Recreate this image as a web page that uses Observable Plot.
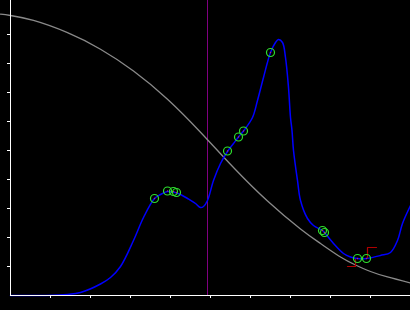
<!DOCTYPE html>
<html>
<head>
<meta charset="utf-8">
<script src="https://cdn.jsdelivr.net/npm/d3@7"></script>
<script src="https://cdn.jsdelivr.net/npm/@observablehq/plot@0.6"></script>
<style>
  html, body { margin: 0; padding: 0; background: #000; }
  #chart { width: 410px; height: 310px; }
</style>
</head>
<body>
<div id="chart"></div>
<script>
// Tick positions (no labels in the reference)
const xTicks = [1, 2, 3, 4, 5, 6, 7, 8, 9];
const yTicks = [1, 2, 3, 4, 5, 6, 7, 8, 9];

// Gray descending curve
const grayX = [-0.25, 0, 0.575, 1.425, 2.25, 3.075, 3.925, 4.75, 5.575, 6.425, 7.25, 7.75, 8.25, 8.625, 9.0, 9.425, 10];
const grayY = [9.700, 9.655, 9.483, 9.062, 8.493, 7.741, 6.769, 5.631, 4.414, 3.259, 2.293, 1.793, 1.328, 1.052, 0.828, 0.638, 0.431];

// Blue curve
const blueX = [0, 0.875, 1.425, 1.75, 2.25, 2.5, 2.75, 3.075, 3.325, 3.6, 3.75, 3.925, 4.075, 4.25, 4.425, 4.625, 4.75, 4.825, 4.925, 5.075, 5.25, 5.425, 5.575, 5.7, 5.825, 6.05, 6.175, 6.325, 6.5, 6.625, 6.7, 6.8, 6.875, 6.95, 7.0, 7.0375, 7.075, 7.175, 7.25, 7.425, 7.575, 7.8, 7.85, 8.075, 8.325, 8.5, 8.675, 8.9, 9.25, 9.5, 9.675, 9.8, 10];
const blueY = [0, 0, 0.034, 0.103, 0.397, 0.621, 1.0, 1.897, 2.690, 3.345, 3.483, 3.586, 3.569, 3.483, 3.345, 3.172, 3.034, 3.069, 3.276, 3.966, 4.552, 4.966, 5.241, 5.466, 5.672, 6.138, 6.724, 7.517, 8.379, 8.724, 8.828, 8.724, 8.207, 7.172, 6.138, 5.690, 5.0, 3.966, 3.276, 2.655, 2.414, 2.241, 2.172, 1.793, 1.448, 1.328, 1.276, 1.276, 1.379, 1.483, 1.897, 2.483, 3.103];

// Green circle markers
const markX = [3.6, 3.925, 4.075, 4.15, 5.425, 5.7, 5.825, 6.5, 7.8, 7.85, 8.675, 8.9];
const markY = [3.345, 3.603, 3.586, 3.552, 4.983, 5.466, 5.672, 8.379, 2.241, 2.172, 1.276, 1.276];

// Red step markers
const red1X = [8.425, 8.625, 8.625];
const red1Y = [1.0, 1.0, 1.241];
const red2X = [8.925, 8.925, 9.15];
const red2Y = [1.310, 1.655, 1.655];

// Purple vertical reference line
const vLineX = [4.925];

const gray = grayX.map((x, i) => ({x, y: grayY[i]}));
const blue = blueX.map((x, i) => ({x, y: blueY[i]}));
const marks = markX.map((x, i) => ({x, y: markY[i]}));
const red1 = red1X.map((x, i) => ({x, y: red1Y[i]}));
const red2 = red2X.map((x, i) => ({x, y: red2Y[i]}));

const chart = Plot.plot({
  width: 410,
  height: 310,
  marginLeft: 10,
  marginRight: 0,
  marginTop: 0,
  marginBottom: 15,
  style: {background: "#000", color: "#fff", overflow: "visible"},
  x: {domain: [0, 10], ticks: xTicks, tickSize: 3, tickFormat: () => "", label: null},
  y: {domain: [0, 295 / 29], ticks: yTicks, tickSize: 3, tickFormat: () => "", label: null},
  marks: [
    Plot.ruleX(vLineX, {stroke: "#800080", strokeWidth: 1}),
    Plot.line(gray, {x: "x", y: "y", stroke: "#8a8a8a", strokeWidth: 1.3, curve: "natural"}),
    Plot.line(blue, {x: "x", y: "y", stroke: "#0000ff", strokeWidth: 1.5, curve: "catmull-rom"}),
    Plot.line(red1, {x: "x", y: "y", stroke: "#b00000", strokeWidth: 1.2}),
    Plot.line(red2, {x: "x", y: "y", stroke: "#b00000", strokeWidth: 1.2}),
    Plot.dot(marks, {x: "x", y: "y", r: 4, stroke: "#2ee02e", strokeWidth: 1.2, fill: "none"}),
    Plot.dot(marks, {x: "x", y: "y", r: 0.7, fill: "#c03060", stroke: "none"}),
    Plot.ruleX([0], {stroke: "#fff", strokeWidth: 1}),
    Plot.ruleY([0], {stroke: "#fff", strokeWidth: 1})
  ]
});
document.getElementById("chart").appendChild(chart);
</script>
</body>
</html>
